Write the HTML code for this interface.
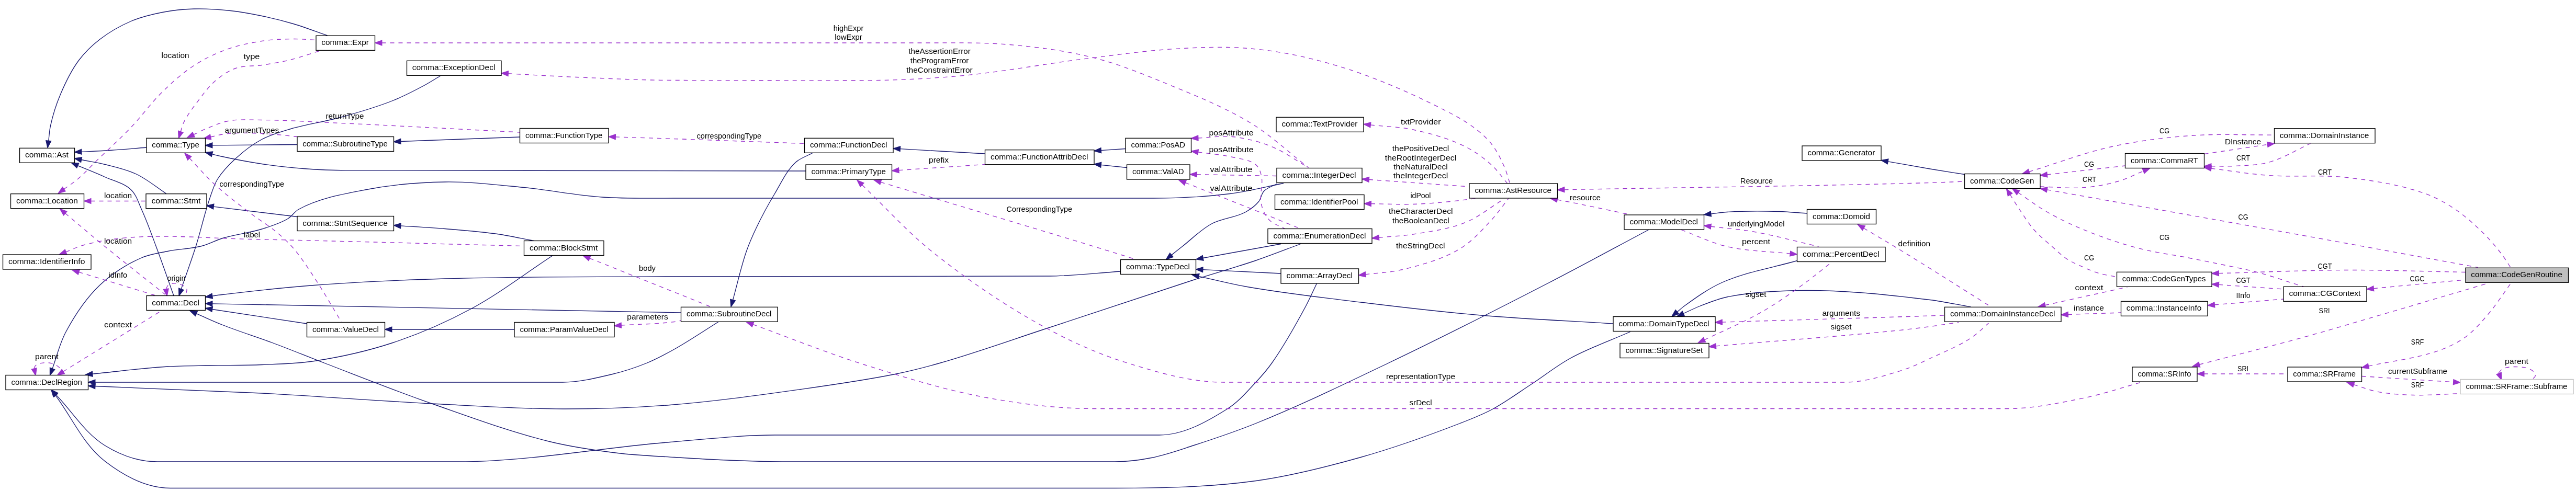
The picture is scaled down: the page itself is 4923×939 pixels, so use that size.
<!DOCTYPE html>
<html><head><meta charset="utf-8"><title>comma::CodeGenRoutine collaboration graph</title>
<style>html,body{margin:0;padding:0;background:#fff;}svg{display:block;}text{font-family:"Liberation Sans",sans-serif;font-size:14.2px;fill:#000;text-anchor:middle;}</style></head><body>
<svg width="4923" height="939" viewBox="0 0 4923 939">
<rect x="0" y="0" width="4923" height="939" fill="#fff"/>
<g transform="translate(0.5,0.5)">
<g>
<path d="M92.2,269.1C93.5,259.4 93.9,249.6 96,240C100.5,219.5 106.8,199.3 115,180C124.6,157.3 135.3,134.7 150,115C161.3,99.9 175.1,86.5 190,75C208.3,60.9 228.7,49.1 250,40C269.1,31.9 289.6,27 310,23C329.7,19.2 349.9,17.1 370,16.5C393.4,15.8 416.8,17.5 440,20C460.2,22.2 480.1,25.9 500,30C520.2,34.2 540.2,39.1 560,45C582,51.5 603.3,60 625,67.5" fill="none" stroke="#191970" stroke-width="1.33"/>
<polygon points="90.5,282 97.1,269.4 87.4,268.2" fill="#191970" stroke="#191970" stroke-width="1.33"/>
<path d="M155,289.8C173.3,288.9 191.7,288.2 210,287C233.2,285.5 256.3,283.3 279.5,281.5" fill="none" stroke="#191970" stroke-width="1.33"/>
<polygon points="142,290.5 155.5,294.7 155,284.9" fill="#191970" stroke="#191970" stroke-width="1.33"/>
<path d="M154.8,305C169.8,308 185.1,310.2 200,314C220.3,319.1 241.1,323.6 260,332.5C280.7,342.2 298.3,357.5 317.5,370" fill="none" stroke="#191970" stroke-width="1.33"/>
<polygon points="142,302.5 154.1,309.9 156,300.3" fill="#191970" stroke="#191970" stroke-width="1.33"/>
<path d="M148,316.1C165.3,323.4 182.9,330.2 200,338C216.9,345.7 236.7,349.6 250,362.5C260.2,372.3 264.1,387.1 270,400C280.5,422.8 288.7,446.5 297.5,470C309.3,501.5 320.2,533.3 331.5,565" fill="none" stroke="#191970" stroke-width="1.33"/>
<polygon points="136,311 146.3,320.7 150.2,311.7" fill="#191970" stroke="#191970" stroke-width="1.33"/>
<path d="M405,277.4L567.5,276" fill="none" stroke="#191970" stroke-width="1.33"/>
<polygon points="392,277.5 405.3,282.3 405.3,272.5" fill="#191970" stroke="#191970" stroke-width="1.33"/>
<path d="M765,270L993,261.5" fill="none" stroke="#191970" stroke-width="1.33"/>
<polygon points="752,270.5 765.5,274.9 765.1,265.1" fill="#191970" stroke="#191970" stroke-width="1.33"/>
<path d="M404.6,294.2C409.7,295.4 414.8,296.9 420,298C446.5,303.8 473.2,309 500,313C526.5,317 553.2,319.9 580,322C606.6,324 633.3,325.3 660,325.3L1539.5,326.5" fill="none" stroke="#191970" stroke-width="1.33"/>
<polygon points="392,291 403.7,299 406.1,289.5" fill="#191970" stroke="#191970" stroke-width="1.33"/>
<path d="M407.4,394.6L567.5,414" fill="none" stroke="#191970" stroke-width="1.33"/>
<polygon points="394.5,393 407.1,399.5 408.3,389.7" fill="#191970" stroke="#191970" stroke-width="1.33"/>
<path d="M765,431.4C793.3,433.2 821.7,434.6 850,437C883.4,439.8 916.8,442.3 950,447C973.5,450.4 996.7,455.7 1020,460" fill="none" stroke="#191970" stroke-width="1.33"/>
<polygon points="752,430.5 764.9,436.3 765.6,426.5" fill="#191970" stroke="#191970" stroke-width="1.33"/>
<path d="M345.7,552.7C355.1,525.1 365.2,497.8 374,470C383.4,440.2 389.9,409.5 400,380C404.4,367.3 408,354 415,342.5C424.3,327.4 436.9,314.5 450,302.5C465.2,288.6 481.8,275.7 500,266C517.2,256.8 536.3,251.5 555,246C586.2,236.8 618.7,232.6 650,224C683.7,214.7 717.5,205 750,192C770.6,183.8 790.4,173.5 810,163C820.9,157.1 831.3,150.3 842,144" fill="none" stroke="#191970" stroke-width="1.33"/>
<polygon points="341.5,565 350.4,554 341.2,550.8" fill="#191970" stroke="#191970" stroke-width="1.33"/>
<path d="M404.9,591L586,618.5" fill="none" stroke="#191970" stroke-width="1.33"/>
<polygon points="392,589 404.4,595.8 405.9,586.2" fill="#191970" stroke="#191970" stroke-width="1.33"/>
<path d="M748,629.5L982.5,629.5" fill="none" stroke="#191970" stroke-width="1.33"/>
<polygon points="735,629.5 748.3,634.4 748.3,624.6" fill="#191970" stroke="#191970" stroke-width="1.33"/>
<path d="M404.9,565.7C409.9,564.9 414.9,564.1 420,563.5C479.9,556.2 539.9,549.6 600,545C683.2,538.6 766.6,535 850,532.5C995.9,528.2 1142,528.7 1288,528.5L2005,527.5C2050.4,527.4 2095.7,521.5 2141,518.5" fill="none" stroke="#191970" stroke-width="1.33"/>
<polygon points="392,567.5 405.9,570.5 404.5,560.8" fill="#191970" stroke="#191970" stroke-width="1.33"/>
<path d="M405,580.3L1301,597.5" fill="none" stroke="#191970" stroke-width="1.33"/>
<polygon points="392,580 405.2,585.2 405.4,575.4" fill="#191970" stroke="#191970" stroke-width="1.33"/>
<path d="M374.5,599.2C391.4,606.4 408,614.3 425,621C456.3,633.4 488.5,643.2 520,655C553.5,667.5 586.6,681.2 620,694C688.2,720.2 756,747.4 825,771.5C899.4,797.5 973.5,825.3 1050,844C1092.7,854.4 1136.4,860.7 1180,866C1215.8,870.3 1252,871.7 1288,874C1325.3,876.4 1362.6,878.6 1400,880C1435,881.4 1470,882.5 1505,882.5L2130,882.5C2153.5,882.5 2177,879.6 2200,875C2227.3,869.6 2253.6,860.1 2280,851.5C2320.4,838.4 2360.7,824.9 2400,809C2485.8,774.4 2569.1,733.9 2652.5,694C2755.9,644.6 2858.1,592.6 2960,540C3023.7,507.1 3086.7,472.7 3150,439" fill="none" stroke="#191970" stroke-width="1.33"/>
<polygon points="362.6,594 372.9,603.8 376.8,594.8" fill="#191970" stroke="#191970" stroke-width="1.33"/>
<path d="M99.5,704.8C108,681.5 113.4,656.9 125,635C142.4,602.3 163.3,570.6 190,545C213.1,523 240.8,505.3 270,492.5C285.7,485.6 303.2,483.4 320,480C341.5,475.7 363.8,475.5 385,470C398.8,466.4 411.4,459.1 425,455C449.6,447.6 475.5,445.2 500,437.5C517.1,432.1 534.7,426.9 550,417.5C557.6,412.9 562.2,404.3 570,400C609.6,378.3 655.7,370.5 700,362C749.3,352.5 799.8,348.2 850,347.5C900.1,346.8 950.1,353.2 1000,358C1050.1,362.8 1099.7,373 1150,376.5C1195.9,379.7 1242,378.5 1288,378.5L2205,378.5C2253.4,378.5 2302,376.1 2350,370C2384.5,365.6 2418.3,356.7 2452.5,350" fill="none" stroke="#191970" stroke-width="1.33"/>
<polygon points="95,717 104.2,706.2 95,702.8" fill="#191970" stroke="#191970" stroke-width="1.33"/>
<path d="M2238.2,487.4C2245.4,481.6 2252.7,475.7 2260,470C2278.2,455.7 2294.6,438.5 2315,427.5C2335.2,416.6 2359.9,416.1 2380,405C2389.3,399.8 2398.3,393.3 2405,385C2409.7,379.2 2409.9,370.4 2415,365C2421.6,358.1 2431.7,355.7 2440,351" fill="none" stroke="#191970" stroke-width="1.33"/>
<polygon points="2228,495.5 2241.5,491 2235.3,483.4" fill="#191970" stroke="#191970" stroke-width="1.33"/>
<path d="M2298.3,493L2447.5,466" fill="none" stroke="#191970" stroke-width="1.33"/>
<polygon points="2285.5,495.3 2299.5,497.8 2297.7,488.1" fill="#191970" stroke="#191970" stroke-width="1.33"/>
<path d="M181,738C287.3,742.5 393.7,746 500,751.5C608.4,757.1 716.6,766 825,771.5C908.3,775.7 991.6,781.4 1075,781.5C1143.4,781.6 1211.8,779.3 1280,774C1363.7,767.5 1446.9,755.7 1530,744C1590.2,735.5 1650.4,727.1 1710,715C1738.6,709.2 1766.9,702 1795,694C1864.1,674.3 1931.7,649.9 2000,627.5C2093.4,596.9 2186.4,565.1 2280,535C2319.9,522.2 2360.3,511 2400,497.5C2428.6,487.7 2456.7,476.5 2485,466" fill="none" stroke="#191970" stroke-width="1.33"/>
<polygon points="168,737.5 181.1,743 181.5,733.2" fill="#191970" stroke="#191970" stroke-width="1.33"/>
<path d="M2298,515.1L2447.5,522.5" fill="none" stroke="#191970" stroke-width="1.33"/>
<polygon points="2285,514.5 2298,520 2298.5,510.3" fill="#191970" stroke="#191970" stroke-width="1.33"/>
<path d="M106.5,754.4C137.7,786.7 161.8,827.9 200,851.5C229.7,869.8 265.1,882.5 300,882.5L875,882.5C1010.6,882.5 1144.9,855.8 1280,845C1346.6,839.7 1413.2,831.5 1480,831.5L2215,831.5C2261.4,831.5 2305.7,806.2 2345,781.5C2366.3,768.2 2382.8,748.3 2400,730C2410.7,718.6 2421,706.7 2430,694C2454.4,659.5 2475,622.3 2495,585C2502.6,570.8 2509,556 2516,541.5" fill="none" stroke="#191970" stroke-width="1.33"/>
<polygon points="97.5,745 103.2,758 110.3,751.2" fill="#191970" stroke="#191970" stroke-width="1.33"/>
<path d="M2290.2,527.8C2320.1,534.4 2349.8,542.1 2380,547.5C2452.9,560.4 2526.5,568.5 2600,577.5C2676.5,586.9 2753.2,595.9 2830,602.5C2914,609.7 2998.3,613.2 3082.5,618.5" fill="none" stroke="#191970" stroke-width="1.33"/>
<polygon points="2277.5,525 2289.4,532.6 2291.5,523.1" fill="#191970" stroke="#191970" stroke-width="1.33"/>
<path d="M105.3,755.4C136.9,797.4 158.4,849.3 200,881.5C235.6,909.1 279.9,933 325,933L2130,933C2220.1,933 2310.7,931.3 2400,919C2467.7,909.7 2534.2,892.6 2600,874C2664.4,855.8 2727.6,833.2 2790,809C2810.3,801.1 2830.8,793.2 2850,783C2876.2,769.1 2900.2,751.2 2925,735C2950.2,718.6 2973.7,699.5 3000,685C3036.7,664.8 3076.7,651 3115,634" fill="none" stroke="#191970" stroke-width="1.33"/>
<polygon points="97.5,745 101.6,758.6 109.4,752.7" fill="#191970" stroke="#191970" stroke-width="1.33"/>
<path d="M3204.5,596.2C3209,592.5 3213.3,588.4 3218,585C3240.9,568.4 3264.2,551.6 3290,540C3335.6,519.6 3386,512 3434,498" fill="none" stroke="#191970" stroke-width="1.33"/>
<polygon points="3194.5,604.5 3207.9,599.8 3201.6,592.2" fill="#191970" stroke="#191970" stroke-width="1.33"/>
<path d="M3216.4,599.2C3226.9,594.5 3237.2,589.2 3248,585C3265,578.3 3282.1,571.2 3300,567.5C3349.1,557.3 3399.8,555.2 3450,555C3529.6,554.7 3609,563.2 3688,573C3714.2,576.2 3740,582 3766,586.5" fill="none" stroke="#191970" stroke-width="1.33"/>
<polygon points="3204.5,604.5 3218.6,603.5 3214.6,594.6" fill="#191970" stroke="#191970" stroke-width="1.33"/>
<path d="M3268.9,408.5C3279.3,407.4 3289.6,405.6 3300,405C3333.3,402.9 3366.7,403.1 3400,404C3417.7,404.5 3435.3,406.3 3453,407.5" fill="none" stroke="#191970" stroke-width="1.33"/>
<polygon points="3256,410 3269.8,413.4 3268.7,403.6" fill="#191970" stroke="#191970" stroke-width="1.33"/>
<path d="M3607.3,308.3C3634.2,313 3661.1,318 3688,322.5C3710,326.2 3732,329.5 3754,333" fill="none" stroke="#191970" stroke-width="1.33"/>
<polygon points="3594.5,306 3606.7,313.1 3608.4,303.5" fill="#191970" stroke="#191970" stroke-width="1.33"/>
<path d="M1719.5,284.2L1882,293.5" fill="none" stroke="#191970" stroke-width="1.33"/>
<polygon points="1706.5,283.5 1719.5,289.1 1720.1,279.4" fill="#191970" stroke="#191970" stroke-width="1.33"/>
<path d="M2103.5,287.1L2150.5,284" fill="none" stroke="#191970" stroke-width="1.33"/>
<polygon points="2090.5,288 2104.1,292 2103.4,282.2" fill="#191970" stroke="#191970" stroke-width="1.33"/>
<path d="M2103.4,314.8L2153,320" fill="none" stroke="#191970" stroke-width="1.33"/>
<polygon points="2090.5,313.5 2103.2,319.7 2104.2,310" fill="#191970" stroke="#191970" stroke-width="1.33"/>
<path d="M1400,573.5C1408.7,542.3 1415.4,510.5 1426,480C1431.4,464.6 1438,449.7 1445,435C1455.6,412.8 1467.3,391.1 1480,370C1492.4,349.4 1502.3,326.3 1520,310C1529.1,301.6 1541.7,298 1552.5,292" fill="none" stroke="#191970" stroke-width="1.33"/>
<polygon points="1396.5,586 1404.8,574.5 1395.3,571.9" fill="#191970" stroke="#191970" stroke-width="1.33"/>
<path d="M181,730.5L1075,730.5C1107.1,730.5 1138.8,722.5 1170,715C1192.1,709.7 1213.9,702.6 1235,694C1253.3,686.5 1270.8,677.1 1288,667.5C1316.9,651.3 1344.3,632.5 1372.5,615" fill="none" stroke="#191970" stroke-width="1.33"/>
<polygon points="168,730.5 181.3,735.4 181.3,725.6" fill="#191970" stroke="#191970" stroke-width="1.33"/>
<path d="M175.9,714.7C224,710 271.8,703.5 320,700.5C346.6,698.9 373.3,699 400,698.5C433.3,697.8 466.7,698.4 500,697C533.4,695.6 567,695 600,690C650.8,682.3 701.2,671.1 750,655C801.7,637.9 852,615.8 900,590C954.7,560.5 1004,522 1056,488" fill="none" stroke="#191970" stroke-width="1.33"/>
<polygon points="163,716 176.7,719.6 175.8,709.8" fill="#191970" stroke="#191970" stroke-width="1.33"/>
<path d="M121.5,361.4C130.2,355.1 139.3,349.4 147.5,342.5C161.2,331 173.1,317.5 186,305C207.3,284.3 229.5,264.5 250,243C270.9,221.1 288.3,196.1 310,175C328.7,156.9 348.2,139.2 370,125C388.7,112.8 409,102.7 430,95C452.5,86.7 476.3,81.6 500,78C519.8,75 540,74.2 560,74C574.5,73.9 589,75.3 603.5,76" fill="none" stroke="#9a32cd" stroke-width="1.33" stroke-dasharray="8,8"/>
<polygon points="111,369 124.6,365.2 118.9,357.2" fill="#9a32cd" stroke="#9a32cd" stroke-width="1.33"/>
<path d="M344.7,251.6C346.5,246.1 347.5,240.2 350,235C357.8,218.7 369.1,204.4 380,190C389.3,177.8 398.4,165 410,155C421.9,144.7 435.2,135.2 450,130C465.8,124.4 483.4,126.5 500,124C516.7,121.5 533.5,118.9 550,115C570.3,110.1 590,103 610,97" fill="none" stroke="#9a32cd" stroke-width="1.33" stroke-dasharray="8,8"/>
<polygon points="340.8,264 349.5,252.8 340.2,249.8" fill="#9a32cd" stroke="#9a32cd" stroke-width="1.33"/>
<path d="M729,81.5L1780,81.5C1830,81.5 1880.2,80.5 1930,85C1983.8,89.8 2037.7,96.7 2090,110C2138,122.2 2184.2,141.1 2230,160C2284.5,182.4 2339.7,204.3 2390,235C2429.6,259.1 2463.3,291.7 2500,320" fill="none" stroke="#9a32cd" stroke-width="1.33" stroke-dasharray="8,8"/>
<polygon points="716,81.5 729.3,86.4 729.3,76.6" fill="#9a32cd" stroke="#9a32cd" stroke-width="1.33"/>
<path d="M970.5,140.2C1013.7,142.5 1056.8,145.2 1100,147C1161.6,149.6 1223.3,152.9 1285,153L1630,153.5C1696.7,153.6 1763.5,150.9 1830,145C1913.8,137.5 1996.5,121.4 2080,111C2129.9,104.8 2179.8,97.7 2230,94C2268.3,91.2 2306.6,89.4 2345,90C2363.4,90.3 2381.7,91.5 2400,93.5C2426.8,96.4 2453.6,100.2 2480,106C2520.6,114.9 2560.8,126 2600,140C2651.3,158.3 2701.3,180.5 2750,205C2772.3,216.2 2794.9,227.6 2815,242.5C2827.8,252 2840.2,262.5 2850,275C2860.6,288.5 2868.1,304.3 2875,320C2879.2,329.6 2881.7,340 2885,350" fill="none" stroke="#9a32cd" stroke-width="1.33" stroke-dasharray="8,8"/>
<polygon points="957.5,139.5 970.5,145.1 971,135.3" fill="#9a32cd" stroke="#9a32cd" stroke-width="1.33"/>
<path d="M173,384L278.5,384" fill="none" stroke="#9a32cd" stroke-width="1.33" stroke-dasharray="8,8"/>
<polygon points="160,384 173.3,388.9 173.3,379.1" fill="#9a32cd" stroke="#9a32cd" stroke-width="1.33"/>
<path d="M369.3,257C377.9,253 386.2,248.6 395,245C408.1,239.7 421.1,233.6 435,231C456.3,227 478.3,228.9 500,229C550,229.2 600,232.8 650,235C716.7,238 783.3,241.6 850,245C897.7,247.4 945.3,250 993,252.5" fill="none" stroke="#9a32cd" stroke-width="1.33" stroke-dasharray="8,8"/>
<polygon points="357.5,262.5 371.6,261.3 367.5,252.4" fill="#9a32cd" stroke="#9a32cd" stroke-width="1.33"/>
<path d="M401.7,261.6C411.1,259.5 420.4,256.7 430,255.5C446.6,253.5 463.3,253.8 480,254C496.7,254.2 513.4,255.6 530,257C542.5,258 555,259.7 567.5,261" fill="none" stroke="#9a32cd" stroke-width="1.33" stroke-dasharray="8,8"/>
<polygon points="389,264.3 403,266.3 401,256.7" fill="#9a32cd" stroke="#9a32cd" stroke-width="1.33"/>
<path d="M361.5,301.9C377.7,318.8 392.8,336.7 410,352.5C430.5,371.3 452.9,388.1 475,405C493,418.8 512.6,430.4 530,445C540.7,453.9 550.9,463.5 560,474C575,491.4 587.3,510.9 600,530C618.5,558 635,587.3 652.5,616" fill="none" stroke="#9a32cd" stroke-width="1.33" stroke-dasharray="8,8"/>
<polygon points="352.5,292.5 358.2,305.5 365.2,298.7" fill="#9a32cd" stroke="#9a32cd" stroke-width="1.33"/>
<path d="M124,407.3C151,429.9 177.7,452.8 205,475C241.3,504.6 278.3,533.3 315,562.5" fill="none" stroke="#9a32cd" stroke-width="1.33" stroke-dasharray="8,8"/>
<polygon points="114,399 121.1,411.3 127.3,403.8" fill="#9a32cd" stroke="#9a32cd" stroke-width="1.33"/>
<path d="M125.1,481.4C136.8,476.9 148,471.2 160,468C189.3,460.1 219.7,455.7 250,453.5C326.5,448 403.3,455.5 480,457C653.7,460.5 827.3,465.7 1001,470" fill="none" stroke="#9a32cd" stroke-width="1.33" stroke-dasharray="8,8"/>
<polygon points="113,486 127.2,485.8 123.7,476.7" fill="#9a32cd" stroke="#9a32cd" stroke-width="1.33"/>
<path d="M149.9,519.8L295,564" fill="none" stroke="#9a32cd" stroke-width="1.33" stroke-dasharray="8,8"/>
<polygon points="137.5,516 148.8,524.6 151.7,515.2" fill="#9a32cd" stroke="#9a32cd" stroke-width="1.33"/>
<path d="M316.7,552.3C318.1,549.9 318.8,546.7 321,545C324.4,542.4 329,541.4 333.3,541.3C338.4,541.2 343.5,542.7 348,545C351.3,546.7 355.2,548.8 356.5,552.3C357.3,554.6 355.7,557.2 355.3,559.6" fill="none" stroke="#9a32cd" stroke-width="1.33" stroke-dasharray="8,8"/>
<polygon points="318.6,565.5 321.6,551.6 311.9,553" fill="#9a32cd" stroke="#9a32cd" stroke-width="1.33"/>
<path d="M120.1,710.2L306,595" fill="none" stroke="#9a32cd" stroke-width="1.33" stroke-dasharray="8,8"/>
<polygon points="109,717 122.9,714.2 117.7,705.8" fill="#9a32cd" stroke="#9a32cd" stroke-width="1.33"/>
<path d="M64.5,704C65.5,702.2 65.9,699.8 67.5,698.5C71.7,695 77.6,694 83,693.3C88,692.7 93.2,693 98,694.3C102.3,695.4 106.3,697.6 110,700C111.7,701.1 113,702.7 114.5,704" fill="none" stroke="#9a32cd" stroke-width="1.33" stroke-dasharray="8,8"/>
<polygon points="67.7,717.5 69.4,703.4 59.9,705.7" fill="#9a32cd" stroke="#9a32cd" stroke-width="1.33"/>
<path d="M1126.1,493.3L1357.5,586" fill="none" stroke="#9a32cd" stroke-width="1.33" stroke-dasharray="8,8"/>
<polygon points="1114,488.5 1124.5,498 1128.2,488.9" fill="#9a32cd" stroke="#9a32cd" stroke-width="1.33"/>
<path d="M1186.5,621.7C1220.3,619.4 1254.4,619.3 1288,615C1292.4,614.4 1296.7,613.3 1301,612.5" fill="none" stroke="#9a32cd" stroke-width="1.33" stroke-dasharray="8,8"/>
<polygon points="1173.5,622.5 1187.1,626.5 1186.5,616.7" fill="#9a32cd" stroke="#9a32cd" stroke-width="1.33"/>
<path d="M1175.5,261.4C1213,262.6 1250.5,263.7 1288,265C1371,267.8 1454,271 1537,274" fill="none" stroke="#9a32cd" stroke-width="1.33" stroke-dasharray="8,8"/>
<polygon points="1162.5,261 1175.6,266.3 1175.9,256.5" fill="#9a32cd" stroke="#9a32cd" stroke-width="1.33"/>
<path d="M1717,325.1L1882,314" fill="none" stroke="#9a32cd" stroke-width="1.33" stroke-dasharray="8,8"/>
<polygon points="1704,326 1717.6,330 1716.9,320.2" fill="#9a32cd" stroke="#9a32cd" stroke-width="1.33"/>
<path d="M1682.4,347.8C1828.3,391.8 1974.3,435.3 2120,480C2135,484.6 2150,489.3 2165,494" fill="none" stroke="#9a32cd" stroke-width="1.33" stroke-dasharray="8,8"/>
<polygon points="1670,344 1681.3,352.5 1684.1,343.2" fill="#9a32cd" stroke="#9a32cd" stroke-width="1.33"/>
<path d="M1646.9,353C1691.3,395.3 1732.2,441.6 1780,480C1848.9,535.3 1922.4,585.3 2000,627.5C2049.4,654.4 2101.3,677.3 2155,694C2214.4,712.4 2275.8,730.5 2338,730.5L3525,730.5C3562.5,730.5 3599.3,718.7 3635,707.5C3653.3,701.8 3670.6,693.1 3688,685C3714.9,672.5 3742.8,661.4 3767.5,645C3779.3,637.2 3789.2,626.7 3800,617.5" fill="none" stroke="#9a32cd" stroke-width="1.33" stroke-dasharray="8,8"/>
<polygon points="1637.5,344 1643.7,356.7 1650.5,349.6" fill="#9a32cd" stroke="#9a32cd" stroke-width="1.33"/>
<path d="M2289,263.5C2311,262.7 2333.1,258.7 2355,261C2380.6,263.7 2406.1,270.3 2430,280C2454.9,290.1 2476.7,306.7 2500,320" fill="none" stroke="#9a32cd" stroke-width="1.33" stroke-dasharray="8,8"/>
<polygon points="2276,264 2289.5,268.4 2289.1,258.6" fill="#9a32cd" stroke="#9a32cd" stroke-width="1.33"/>
<path d="M2288.9,290.4C2310.9,293.6 2333.3,294.9 2355,300C2370.4,303.7 2388.1,304.6 2400,315C2405.6,319.9 2408.3,327.7 2410,335C2414.2,352.8 2405.8,372.2 2410,390C2412.6,400.9 2417.3,411.9 2425,420C2432.9,428.3 2445,431.3 2455,437" fill="none" stroke="#9a32cd" stroke-width="1.33" stroke-dasharray="8,8"/>
<polygon points="2276,288.5 2288.5,295.3 2289.9,285.6" fill="#9a32cd" stroke="#9a32cd" stroke-width="1.33"/>
<path d="M2286.5,333.2L2439.5,336" fill="none" stroke="#9a32cd" stroke-width="1.33" stroke-dasharray="8,8"/>
<polygon points="2273.5,333 2286.7,338.1 2286.9,328.3" fill="#9a32cd" stroke="#9a32cd" stroke-width="1.33"/>
<path d="M2264.6,348.8C2309.7,366.7 2354.9,384.4 2400,402.5C2426.7,413.2 2453.3,424.2 2480,435" fill="none" stroke="#9a32cd" stroke-width="1.33" stroke-dasharray="8,8"/>
<polygon points="2252.5,344 2263.1,353.5 2266.7,344.3" fill="#9a32cd" stroke="#9a32cd" stroke-width="1.33"/>
<path d="M2618.4,238.4C2645.6,241.5 2673.3,241.7 2700,247.5C2734.3,254.9 2768.6,264.4 2800,280C2818.2,289.1 2834.9,301.3 2850,315C2861.4,325.3 2870,338.3 2880,350" fill="none" stroke="#9a32cd" stroke-width="1.33" stroke-dasharray="8,8"/>
<polygon points="2605.5,237 2618.2,243.3 2619.3,233.6" fill="#9a32cd" stroke="#9a32cd" stroke-width="1.33"/>
<path d="M2615.5,342.9L2807.5,356.5" fill="none" stroke="#9a32cd" stroke-width="1.33" stroke-dasharray="8,8"/>
<polygon points="2602.5,342 2615.4,347.8 2616.1,338.1" fill="#9a32cd" stroke="#9a32cd" stroke-width="1.33"/>
<path d="M2619.5,389.1C2646.3,389.4 2673.2,390.8 2700,390C2723.4,389.3 2746.7,387.2 2770,385C2786.7,383.4 2803.3,381 2820,379" fill="none" stroke="#9a32cd" stroke-width="1.33" stroke-dasharray="8,8"/>
<polygon points="2606.5,389 2619.7,394 2619.9,384.2" fill="#9a32cd" stroke="#9a32cd" stroke-width="1.33"/>
<path d="M2634.4,453.8C2656.3,451.7 2678.3,451 2700,447.5C2733.7,442.1 2768.3,437.8 2800,425C2825.3,414.8 2846.7,396.7 2870,382.5" fill="none" stroke="#9a32cd" stroke-width="1.33" stroke-dasharray="8,8"/>
<polygon points="2621.5,455 2635.2,458.6 2634.3,448.9" fill="#9a32cd" stroke="#9a32cd" stroke-width="1.33"/>
<path d="M2608.9,524.3C2632.6,521.2 2656.8,520.7 2680,515C2717.9,505.7 2756.6,495.2 2790,475C2813.2,460.9 2831.5,439.9 2850,420C2861.9,407.2 2871.7,392.7 2882.5,379" fill="none" stroke="#9a32cd" stroke-width="1.33" stroke-dasharray="8,8"/>
<polygon points="2596,526 2609.8,529.1 2608.6,519.4" fill="#9a32cd" stroke="#9a32cd" stroke-width="1.33"/>
<path d="M2989,362.3C3222,357.8 3455.1,355.6 3688,349C3710,348.4 3732,347.3 3754,346.5" fill="none" stroke="#9a32cd" stroke-width="1.33" stroke-dasharray="8,8"/>
<polygon points="2976,362.5 2989.4,367.1 2989.2,357.3" fill="#9a32cd" stroke="#9a32cd" stroke-width="1.33"/>
<path d="M2975.3,381.4C2981.9,382.6 2988.4,383.7 2995,385C3033.4,392.6 3071.7,401 3110,409" fill="none" stroke="#9a32cd" stroke-width="1.33" stroke-dasharray="8,8"/>
<polygon points="2962.5,379 2974.7,386.2 2976.5,376.6" fill="#9a32cd" stroke="#9a32cd" stroke-width="1.33"/>
<path d="M3268.9,432.6C3295.9,435.9 3323.2,437.8 3350,442.5C3392.1,449.9 3433.3,461.5 3475,471" fill="none" stroke="#9a32cd" stroke-width="1.33" stroke-dasharray="8,8"/>
<polygon points="3256,431 3268.6,437.5 3269.8,427.8" fill="#9a32cd" stroke="#9a32cd" stroke-width="1.33"/>
<path d="M3212.5,439C3241.7,449.7 3269.8,463.9 3300,471C3339.5,480.3 3380.7,480 3421.1,484.6" fill="none" stroke="#9a32cd" stroke-width="1.33" stroke-dasharray="8,8"/>
<polygon points="3434,486 3421.3,479.7 3420.2,489.4" fill="#9a32cd" stroke="#9a32cd" stroke-width="1.33"/>
<path d="M3561.1,435.7C3585.8,450.5 3610.5,465 3635,480C3691.2,514.5 3746.7,550 3802.5,585" fill="none" stroke="#9a32cd" stroke-width="1.33" stroke-dasharray="8,8"/>
<polygon points="3550,429 3558.9,440 3563.9,431.6" fill="#9a32cd" stroke="#9a32cd" stroke-width="1.33"/>
<path d="M3256.7,649.4C3287.8,634.6 3319.5,621 3350,605C3361.9,598.8 3373.6,592.2 3385,585C3407.3,570.9 3428.8,555.6 3450,540C3467,527.5 3483.3,514 3500,501" fill="none" stroke="#9a32cd" stroke-width="1.33" stroke-dasharray="8,8"/>
<polygon points="3245,655 3259.1,653.7 3254.9,644.9" fill="#9a32cd" stroke="#9a32cd" stroke-width="1.33"/>
<path d="M3290.5,615.6C3423,611.6 3555.5,607.9 3688,603.5C3697.3,603.2 3706.7,602.8 3716,602.5" fill="none" stroke="#9a32cd" stroke-width="1.33" stroke-dasharray="8,8"/>
<polygon points="3277.5,616 3290.9,620.5 3290.6,610.7" fill="#9a32cd" stroke="#9a32cd" stroke-width="1.33"/>
<path d="M3278.5,661.4C3397.3,651.1 3516.4,642.9 3635,630.5C3652.7,628.6 3670.4,626.4 3688,624C3706.2,621.5 3724.3,618.7 3742.5,616" fill="none" stroke="#9a32cd" stroke-width="1.33" stroke-dasharray="8,8"/>
<polygon points="3265.5,662.5 3279.2,666.2 3278.3,656.5" fill="#9a32cd" stroke="#9a32cd" stroke-width="1.33"/>
<path d="M1438.2,619.9C1508.8,645.4 1578.4,673.9 1650,696.5C1725.8,720.4 1801.9,744.4 1880,759C1949.2,771.9 2019.6,781 2090,781L3835,781C3885.5,781 3935.6,770.2 3985,760C4020.6,752.6 4055,740.7 4090,731" fill="none" stroke="#9a32cd" stroke-width="1.33" stroke-dasharray="8,8"/>
<polygon points="1426,615.5 1436.8,624.6 1440.2,615.4" fill="#9a32cd" stroke="#9a32cd" stroke-width="1.33"/>
<path d="M3876.9,328C3929.6,312 3981.2,291.9 4035,280C4084.3,269.1 4134.7,262.7 4185,259C4238.5,255 4292.3,258 4346,257.5" fill="none" stroke="#9a32cd" stroke-width="1.33" stroke-dasharray="8,8"/>
<polygon points="3864.5,331.8 3878.7,332.6 3875.8,323.2" fill="#9a32cd" stroke="#9a32cd" stroke-width="1.33"/>
<path d="M3911.4,333.5L4061,316.5" fill="none" stroke="#9a32cd" stroke-width="1.33" stroke-dasharray="8,8"/>
<polygon points="3898.5,335 3912.3,338.4 3911.2,328.6" fill="#9a32cd" stroke="#9a32cd" stroke-width="1.33"/>
<path d="M3898.5,356.5C3927.3,357 3956.3,360.5 3985,358C4007,356.1 4028.9,351.8 4050,345.5C4065.9,340.7 4080.7,332.8 4096,326.5" fill="none" stroke="#9a32cd" stroke-width="1.33" stroke-dasharray="8,8"/>
<polygon points="4108,321.5 4093.8,322.1 4097.6,331.1" fill="#9a32cd" stroke="#9a32cd" stroke-width="1.33"/>
<path d="M4212,294L4333.1,275.9" fill="none" stroke="#9a32cd" stroke-width="1.33" stroke-dasharray="8,8"/>
<polygon points="4346,274 4332.1,271.1 4333.6,280.8" fill="#9a32cd" stroke="#9a32cd" stroke-width="1.33"/>
<path d="M4225,317.4C4240,317.3 4255,317.9 4270,317C4291.8,315.7 4314,315.7 4335,310C4363.2,302.3 4388.3,286 4415,274" fill="none" stroke="#9a32cd" stroke-width="1.33" stroke-dasharray="8,8"/>
<polygon points="4212,317.5 4225.3,322.3 4225.3,312.5" fill="#9a32cd" stroke="#9a32cd" stroke-width="1.33"/>
<path d="M4224.9,321.6C4261.6,326 4298.1,332.3 4335,335C4384.9,338.7 4435.3,333.2 4485,339C4535.7,344.9 4586.9,352.8 4635,370C4655.2,377.2 4674.2,388 4692,400C4711.2,413 4728.5,428.7 4745,445C4757.6,457.4 4769.2,471 4780,485C4786.4,493.3 4791.7,502.3 4797.5,511" fill="none" stroke="#9a32cd" stroke-width="1.33" stroke-dasharray="8,8"/>
<polygon points="4212,320 4224.6,326.5 4225.8,316.7" fill="#9a32cd" stroke="#9a32cd" stroke-width="1.33"/>
<path d="M3911.3,362.3C3981.9,374.9 4052.5,387.4 4123.1,400C4230.1,419.1 4337.1,438.2 4444,457.6C4541,475.2 4638,493.2 4735,511" fill="none" stroke="#9a32cd" stroke-width="1.33" stroke-dasharray="8,8"/>
<polygon points="3898.5,360 3910.7,367.2 3912.5,357.5" fill="#9a32cd" stroke="#9a32cd" stroke-width="1.33"/>
<path d="M3856.3,367.8C3873.4,379.3 3890,391.9 3907.7,402.5C3921.5,410.8 3935.8,418.1 3950.3,425C3966.7,432.8 3983.5,439.7 4000.4,446.3C4016.9,452.7 4033.6,458.6 4050.5,463.9C4067,469.1 4083.7,473.8 4100.6,477.7C4125.4,483.4 4150.8,486.6 4175.8,491.4C4200.9,496.2 4225.9,501.3 4250.9,506.5C4271.8,510.9 4292.9,514.7 4313.5,520.2C4343.3,528.1 4372.3,538.5 4401.7,547.7" fill="none" stroke="#9a32cd" stroke-width="1.33" stroke-dasharray="8,8"/>
<polygon points="3845.5,360.5 3853.8,372 3859.3,363.9" fill="#9a32cd" stroke="#9a32cd" stroke-width="1.33"/>
<path d="M3840.9,371.5C3846.9,381 3852.6,390.7 3858.9,400C3868.1,413.6 3876.8,427.7 3887.7,440C3897.5,451.1 3909.1,460.4 3920.2,470.1C3930,478.7 3939.4,488.1 3950.3,495.2C3959.7,501.3 3970.1,505.7 3980.4,510.2C3991,514.9 4001.7,519.5 4012.9,522.7C4023.4,525.7 4034.3,526.9 4045,529" fill="none" stroke="#9a32cd" stroke-width="1.33" stroke-dasharray="8,8"/>
<polygon points="3834,360.5 3836.9,374.4 3845.2,369.1" fill="#9a32cd" stroke="#9a32cd" stroke-width="1.33"/>
<path d="M4239.5,522.2C4321.3,520.1 4403.1,516.3 4485,516C4560.5,515.7 4636,518.7 4711.5,520" fill="none" stroke="#9a32cd" stroke-width="1.33" stroke-dasharray="8,8"/>
<polygon points="4226.5,522.5 4239.9,527.1 4239.7,517.3" fill="#9a32cd" stroke="#9a32cd" stroke-width="1.33"/>
<path d="M4239.5,543.9L4363.5,552.5" fill="none" stroke="#9a32cd" stroke-width="1.33" stroke-dasharray="8,8"/>
<polygon points="4226.5,543 4239.4,548.8 4240.1,539" fill="#9a32cd" stroke="#9a32cd" stroke-width="1.33"/>
<path d="M4535.4,551.3L4705,535" fill="none" stroke="#9a32cd" stroke-width="1.33" stroke-dasharray="8,8"/>
<polygon points="4522.5,552.5 4536.2,556.1 4535.3,546.4" fill="#9a32cd" stroke="#9a32cd" stroke-width="1.33"/>
<path d="M4231.5,582.4L4363.5,571.5" fill="none" stroke="#9a32cd" stroke-width="1.33" stroke-dasharray="8,8"/>
<polygon points="4218.5,583.5 4232.2,587.3 4231.4,577.5" fill="#9a32cd" stroke="#9a32cd" stroke-width="1.33"/>
<path d="M3951.5,601L4053,597.5" fill="none" stroke="#9a32cd" stroke-width="1.33" stroke-dasharray="8,8"/>
<polygon points="3938.5,601.5 3952,605.9 3951.6,596.1" fill="#9a32cd" stroke="#9a32cd" stroke-width="1.33"/>
<path d="M3907.7,583.2L4065,548.5" fill="none" stroke="#9a32cd" stroke-width="1.33" stroke-dasharray="8,8"/>
<polygon points="3895,586 3909,587.9 3906.9,578.4" fill="#9a32cd" stroke="#9a32cd" stroke-width="1.33"/>
<path d="M4202.6,696.7C4268.4,679.5 4334.4,663.1 4400,645C4451.9,630.7 4503.4,615.1 4555,600C4621.7,580.5 4688.3,560.7 4755,541" fill="none" stroke="#9a32cd" stroke-width="1.33" stroke-dasharray="8,8"/>
<polygon points="4190,700 4204.1,701.4 4201.6,691.9" fill="#9a32cd" stroke="#9a32cd" stroke-width="1.33"/>
<path d="M4525.7,699.7C4570.5,689.8 4616.8,685.3 4660,670C4677.6,663.8 4694.9,655.9 4710,645C4727.2,632.6 4741.2,616.1 4755,600C4770.6,581.8 4783.3,561.3 4797.5,542" fill="none" stroke="#9a32cd" stroke-width="1.33" stroke-dasharray="8,8"/>
<polygon points="4513,702.5 4527,704.4 4524.9,694.8" fill="#9a32cd" stroke="#9a32cd" stroke-width="1.33"/>
<path d="M4211.5,714.5L4371.5,714.5" fill="none" stroke="#9a32cd" stroke-width="1.33" stroke-dasharray="8,8"/>
<polygon points="4198.5,714.5 4211.8,719.4 4211.8,709.6" fill="#9a32cd" stroke="#9a32cd" stroke-width="1.33"/>
<path d="M4513,719L4688.5,730.2" fill="none" stroke="#9a32cd" stroke-width="1.33" stroke-dasharray="8,8"/>
<polygon points="4701.5,731 4688.5,725.3 4687.9,735" fill="#9a32cd" stroke="#9a32cd" stroke-width="1.33"/>
<path d="M4497.4,734.8C4511.6,739.2 4525.4,745.1 4540,748C4563,752.7 4586.6,754.2 4610,755C4638.3,756 4666.7,753.3 4695,752.5" fill="none" stroke="#9a32cd" stroke-width="1.33" stroke-dasharray="8,8"/>
<polygon points="4485,731 4496.3,739.6 4499.2,730.2" fill="#9a32cd" stroke="#9a32cd" stroke-width="1.33"/>
<path d="M4774.7,712.5C4777.1,710.1 4778.9,706.8 4782,705.2C4789.3,701.4 4798.1,700.9 4806.4,701C4817.2,701.2 4829.2,701.6 4838.2,707.6C4841.5,709.8 4845,713.4 4845,717.4C4845,719.9 4842.1,721.5 4840.6,723.5" fill="none" stroke="#9a32cd" stroke-width="1.33" stroke-dasharray="8,8"/>
<polygon points="4780,726 4779.7,711.8 4770.6,715.4" fill="#9a32cd" stroke="#9a32cd" stroke-width="1.33"/>
</g>
<g>
<rect x="37" y="282.8" width="105" height="28" fill="#fff" stroke="#000" stroke-width="1.33"/>
<rect x="20" y="370.2" width="140" height="28" fill="#fff" stroke="#000" stroke-width="1.33"/>
<rect x="5" y="486.5" width="168.5" height="28" fill="#fff" stroke="#000" stroke-width="1.33"/>
<rect x="10.5" y="717" width="157.5" height="28" fill="#fff" stroke="#000" stroke-width="1.33"/>
<rect x="279.5" y="263.8" width="112.5" height="28" fill="#fff" stroke="#000" stroke-width="1.33"/>
<rect x="278.5" y="370.2" width="116" height="28" fill="#fff" stroke="#000" stroke-width="1.33"/>
<rect x="279.5" y="565" width="112.5" height="28" fill="#fff" stroke="#000" stroke-width="1.33"/>
<rect x="603.5" y="67.8" width="112.5" height="28" fill="#fff" stroke="#000" stroke-width="1.33"/>
<rect x="567.5" y="261" width="184.5" height="28" fill="#fff" stroke="#000" stroke-width="1.33"/>
<rect x="567.5" y="413" width="184.5" height="28" fill="#fff" stroke="#000" stroke-width="1.33"/>
<rect x="586" y="616" width="149" height="28" fill="#fff" stroke="#000" stroke-width="1.33"/>
<rect x="777" y="115.8" width="180.5" height="28" fill="#fff" stroke="#000" stroke-width="1.33"/>
<rect x="993" y="245" width="169.5" height="28" fill="#fff" stroke="#000" stroke-width="1.33"/>
<rect x="1001" y="460" width="152.5" height="28" fill="#fff" stroke="#000" stroke-width="1.33"/>
<rect x="982.5" y="616" width="191" height="28" fill="#fff" stroke="#000" stroke-width="1.33"/>
<rect x="1301" y="586.8" width="184.5" height="28" fill="#fff" stroke="#000" stroke-width="1.33"/>
<rect x="1537" y="263.8" width="169.5" height="28" fill="#fff" stroke="#000" stroke-width="1.33"/>
<rect x="1539.5" y="314.5" width="164.5" height="28" fill="#fff" stroke="#000" stroke-width="1.33"/>
<rect x="1882" y="286.2" width="208.5" height="28" fill="#fff" stroke="#000" stroke-width="1.33"/>
<rect x="2150.5" y="263.8" width="125.5" height="28" fill="#fff" stroke="#000" stroke-width="1.33"/>
<rect x="2153" y="314.5" width="120.5" height="28" fill="#fff" stroke="#000" stroke-width="1.33"/>
<rect x="2141" y="496" width="144" height="28" fill="#fff" stroke="#000" stroke-width="1.33"/>
<rect x="2438.5" y="223.8" width="167" height="28" fill="#fff" stroke="#000" stroke-width="1.33"/>
<rect x="2439.5" y="321" width="163" height="28" fill="#fff" stroke="#000" stroke-width="1.33"/>
<rect x="2436" y="372" width="170.5" height="28" fill="#fff" stroke="#000" stroke-width="1.33"/>
<rect x="2422.5" y="437" width="199" height="28" fill="#fff" stroke="#000" stroke-width="1.33"/>
<rect x="2447.5" y="513.5" width="148.5" height="28" fill="#fff" stroke="#000" stroke-width="1.33"/>
<rect x="2807.5" y="350.5" width="168.5" height="28" fill="#fff" stroke="#000" stroke-width="1.33"/>
<rect x="3103.5" y="410.5" width="152.5" height="28" fill="#fff" stroke="#000" stroke-width="1.33"/>
<rect x="3082.5" y="605" width="195" height="28" fill="#fff" stroke="#000" stroke-width="1.33"/>
<rect x="3095.5" y="656" width="170" height="28" fill="#fff" stroke="#000" stroke-width="1.33"/>
<rect x="3443.5" y="278.5" width="151" height="28" fill="#fff" stroke="#000" stroke-width="1.33"/>
<rect x="3453" y="400" width="132" height="28" fill="#fff" stroke="#000" stroke-width="1.33"/>
<rect x="3434" y="472" width="168.5" height="28" fill="#fff" stroke="#000" stroke-width="1.33"/>
<rect x="3754" y="332" width="144.5" height="28" fill="#fff" stroke="#000" stroke-width="1.33"/>
<rect x="3716" y="586.8" width="222.5" height="28" fill="#fff" stroke="#000" stroke-width="1.33"/>
<rect x="4061" y="293" width="151" height="28" fill="#fff" stroke="#000" stroke-width="1.33"/>
<rect x="4045" y="519.8" width="181.5" height="28" fill="#fff" stroke="#000" stroke-width="1.33"/>
<rect x="4053" y="575.8" width="165.5" height="28" fill="#fff" stroke="#000" stroke-width="1.33"/>
<rect x="4074.5" y="701.5" width="124" height="28" fill="#fff" stroke="#000" stroke-width="1.33"/>
<rect x="4346" y="245.2" width="192.5" height="28" fill="#fff" stroke="#000" stroke-width="1.33"/>
<rect x="4363.5" y="547.8" width="159" height="28" fill="#fff" stroke="#000" stroke-width="1.33"/>
<rect x="4371.5" y="701.5" width="141.5" height="28" fill="#fff" stroke="#000" stroke-width="1.33"/>
<rect x="4711.5" y="511.8" width="196.5" height="28" fill="#bfbfbf" stroke="#000" stroke-width="1.33"/>
<rect x="4701.5" y="725" width="216" height="28" fill="#fff" stroke="#bfbfbf" stroke-width="1.33"/>
</g>
<g style="filter:grayscale(1)">
<text x="88.9" y="300.9" textLength="83" lengthAdjust="spacingAndGlyphs">comma::Ast</text>
<text x="89.4" y="388.4" textLength="118" lengthAdjust="spacingAndGlyphs">comma::Location</text>
<text x="88.7" y="504.6" textLength="146.5" lengthAdjust="spacingAndGlyphs">comma::IdentifierInfo</text>
<text x="88.7" y="735.1" textLength="135.5" lengthAdjust="spacingAndGlyphs">comma::DeclRegion</text>
<text x="335.1" y="281.9" textLength="90.5" lengthAdjust="spacingAndGlyphs">comma::Type</text>
<text x="335.9" y="388.4" textLength="94" lengthAdjust="spacingAndGlyphs">comma::Stmt</text>
<text x="335.1" y="583.1" textLength="90.5" lengthAdjust="spacingAndGlyphs">comma::Decl</text>
<text x="659.1" y="85.8" textLength="90.5" lengthAdjust="spacingAndGlyphs">comma::Expr</text>
<text x="659.1" y="279.1" textLength="162.5" lengthAdjust="spacingAndGlyphs">comma::SubroutineType</text>
<text x="659.1" y="431.1" textLength="162.5" lengthAdjust="spacingAndGlyphs">comma::StmtSequence</text>
<text x="659.9" y="634.1" textLength="127" lengthAdjust="spacingAndGlyphs">comma::ValueDecl</text>
<text x="866.6" y="133.8" textLength="158.5" lengthAdjust="spacingAndGlyphs">comma::ExceptionDecl</text>
<text x="1077.2" y="263.1" textLength="147.5" lengthAdjust="spacingAndGlyphs">comma::FunctionType</text>
<text x="1076.7" y="478.1" textLength="130.5" lengthAdjust="spacingAndGlyphs">comma::BlockStmt</text>
<text x="1077.4" y="634.1" textLength="169" lengthAdjust="spacingAndGlyphs">comma::ParamValueDecl</text>
<text x="1392.7" y="604.9" textLength="162.5" lengthAdjust="spacingAndGlyphs">comma::SubroutineDecl</text>
<text x="1621.2" y="281.9" textLength="147.5" lengthAdjust="spacingAndGlyphs">comma::FunctionDecl</text>
<text x="1621.2" y="332.6" textLength="142.5" lengthAdjust="spacingAndGlyphs">comma::PrimaryType</text>
<text x="1985.7" y="304.4" textLength="186.5" lengthAdjust="spacingAndGlyphs">comma::FunctionAttribDecl</text>
<text x="2212.7" y="281.9" textLength="103.5" lengthAdjust="spacingAndGlyphs">comma::PosAD</text>
<text x="2212.7" y="332.6" textLength="98.5" lengthAdjust="spacingAndGlyphs">comma::ValAD</text>
<text x="2212.4" y="514.1" textLength="122" lengthAdjust="spacingAndGlyphs">comma::TypeDecl</text>
<text x="2521.4" y="241.8" textLength="145" lengthAdjust="spacingAndGlyphs">comma::TextProvider</text>
<text x="2520.4" y="339.1" textLength="141" lengthAdjust="spacingAndGlyphs">comma::IntegerDecl</text>
<text x="2520.7" y="390.1" textLength="148.5" lengthAdjust="spacingAndGlyphs">comma::IdentifierPool</text>
<text x="2521.4" y="455.1" textLength="177" lengthAdjust="spacingAndGlyphs">comma::EnumerationDecl</text>
<text x="2521.2" y="531.6" textLength="126.5" lengthAdjust="spacingAndGlyphs">comma::ArrayDecl</text>
<text x="2891.2" y="368.6" textLength="146.5" lengthAdjust="spacingAndGlyphs">comma::AstResource</text>
<text x="3179.2" y="428.6" textLength="130.5" lengthAdjust="spacingAndGlyphs">comma::ModelDecl</text>
<text x="3179.4" y="623.1" textLength="173" lengthAdjust="spacingAndGlyphs">comma::DomainTypeDecl</text>
<text x="3179.9" y="674.1" textLength="148" lengthAdjust="spacingAndGlyphs">comma::SignatureSet</text>
<text x="3518.4" y="296.6" textLength="129" lengthAdjust="spacingAndGlyphs">comma::Generator</text>
<text x="3518.4" y="418.1" textLength="110" lengthAdjust="spacingAndGlyphs">comma::Domoid</text>
<text x="3517.7" y="490.1" textLength="146.5" lengthAdjust="spacingAndGlyphs">comma::PercentDecl</text>
<text x="3825.7" y="350.1" textLength="122.5" lengthAdjust="spacingAndGlyphs">comma::CodeGen</text>
<text x="3826.7" y="604.9" textLength="200.5" lengthAdjust="spacingAndGlyphs">comma::DomainInstanceDecl</text>
<text x="4135.9" y="311.1" textLength="129" lengthAdjust="spacingAndGlyphs">comma::CommaRT</text>
<text x="4135.1" y="537.9" textLength="159.5" lengthAdjust="spacingAndGlyphs">comma::CodeGenTypes</text>
<text x="4135.1" y="593.9" textLength="143.5" lengthAdjust="spacingAndGlyphs">comma::InstanceInfo</text>
<text x="4135.9" y="719.6" textLength="102" lengthAdjust="spacingAndGlyphs">comma::SRInfo</text>
<text x="4441.6" y="263.4" textLength="170.5" lengthAdjust="spacingAndGlyphs">comma::DomainInstance</text>
<text x="4442.4" y="565.9" textLength="137" lengthAdjust="spacingAndGlyphs">comma::CGContext</text>
<text x="4441.6" y="719.6" textLength="119.5" lengthAdjust="spacingAndGlyphs">comma::SRFrame</text>
<text x="4809.1" y="529.9" textLength="174.5" lengthAdjust="spacingAndGlyphs">comma::CodeGenRoutine</text>
<text x="4808.9" y="743.1" textLength="194" lengthAdjust="spacingAndGlyphs">comma::SRFrame::Subframe</text>
<text x="334.5" y="110.9" textLength="53" lengthAdjust="spacingAndGlyphs">location</text>
<text x="480.5" y="112.9" textLength="31" lengthAdjust="spacingAndGlyphs">type</text>
<text x="658.5" y="226.9" textLength="73" lengthAdjust="spacingAndGlyphs">returnType</text>
<text x="480.8" y="253.4" textLength="103.5" lengthAdjust="spacingAndGlyphs">argumentTypes</text>
<text x="480.8" y="356.9" textLength="123.5" lengthAdjust="spacingAndGlyphs">correspondingType</text>
<text x="225" y="378.9" textLength="53" lengthAdjust="spacingAndGlyphs">location</text>
<text x="481" y="453.9" textLength="31" lengthAdjust="spacingAndGlyphs">label</text>
<text x="225" y="465.4" textLength="53" lengthAdjust="spacingAndGlyphs">location</text>
<text x="224.8" y="530.9" textLength="35.5" lengthAdjust="spacingAndGlyphs">idInfo</text>
<text x="336.5" y="536.1" textLength="35" lengthAdjust="spacingAndGlyphs">origin</text>
<text x="225" y="625.9" textLength="53" lengthAdjust="spacingAndGlyphs">context</text>
<text x="88.8" y="686.9" textLength="44.5" lengthAdjust="spacingAndGlyphs">parent</text>
<text x="1236.5" y="517.9" textLength="32" lengthAdjust="spacingAndGlyphs">body</text>
<text x="1237" y="610.4" textLength="78.5" lengthAdjust="spacingAndGlyphs">parameters</text>
<text x="1621" y="58.9" textLength="57.5" lengthAdjust="spacingAndGlyphs">highExpr</text>
<text x="1621" y="75.9" textLength="52.5" lengthAdjust="spacingAndGlyphs">lowExpr</text>
<text x="1795" y="102.9" textLength="118.5" lengthAdjust="spacingAndGlyphs">theAssertionError</text>
<text x="1795" y="120.9" textLength="111.5" lengthAdjust="spacingAndGlyphs">theProgramError</text>
<text x="1795" y="138.4" textLength="126.5" lengthAdjust="spacingAndGlyphs">theConstraintError</text>
<text x="1392.8" y="264.9" textLength="123.5" lengthAdjust="spacingAndGlyphs">correspondingType</text>
<text x="1793.5" y="310.9" textLength="38" lengthAdjust="spacingAndGlyphs">prefix</text>
<text x="2352.5" y="258.4" textLength="85" lengthAdjust="spacingAndGlyphs">posAttribute</text>
<text x="2352.5" y="290.9" textLength="85" lengthAdjust="spacingAndGlyphs">posAttribute</text>
<text x="2352.5" y="328.9" textLength="81" lengthAdjust="spacingAndGlyphs">valAttribute</text>
<text x="2352.5" y="364.9" textLength="81" lengthAdjust="spacingAndGlyphs">valAttribute</text>
<text x="1985.8" y="404.9" textLength="125.5" lengthAdjust="spacingAndGlyphs">CorrespondingType</text>
<text x="2714.8" y="237.4" textLength="76.5" lengthAdjust="spacingAndGlyphs">txtProvider</text>
<text x="2714.5" y="288.9" textLength="108.5" lengthAdjust="spacingAndGlyphs">thePositiveDecl</text>
<text x="2714.5" y="306.9" textLength="136.5" lengthAdjust="spacingAndGlyphs">theRootIntegerDecl</text>
<text x="2714.5" y="323.9" textLength="103.5" lengthAdjust="spacingAndGlyphs">theNaturalDecl</text>
<text x="2714.5" y="340.9" textLength="104.5" lengthAdjust="spacingAndGlyphs">theIntegerDecl</text>
<text x="2714.5" y="378.9" textLength="39" lengthAdjust="spacingAndGlyphs">idPool</text>
<text x="2714.8" y="408.9" textLength="122.5" lengthAdjust="spacingAndGlyphs">theCharacterDecl</text>
<text x="2714.8" y="426.9" textLength="108.5" lengthAdjust="spacingAndGlyphs">theBooleanDecl</text>
<text x="2714.2" y="474.9" textLength="93.5" lengthAdjust="spacingAndGlyphs">theStringDecl</text>
<text x="3356.5" y="350.9" textLength="62" lengthAdjust="spacingAndGlyphs">Resource</text>
<text x="3029" y="382.9" textLength="59" lengthAdjust="spacingAndGlyphs">resource</text>
<text x="3355.8" y="432.9" textLength="108.5" lengthAdjust="spacingAndGlyphs">underlyingModel</text>
<text x="3355.5" y="466.4" textLength="54" lengthAdjust="spacingAndGlyphs">percent</text>
<text x="3657.8" y="470.9" textLength="61.5" lengthAdjust="spacingAndGlyphs">definition</text>
<text x="3355" y="567.4" textLength="40" lengthAdjust="spacingAndGlyphs">sigset</text>
<text x="3518.2" y="603.4" textLength="72.5" lengthAdjust="spacingAndGlyphs">arguments</text>
<text x="3518" y="629.9" textLength="40" lengthAdjust="spacingAndGlyphs">sigset</text>
<text x="2714.5" y="724.9" textLength="132" lengthAdjust="spacingAndGlyphs">representationType</text>
<text x="2714.5" y="774.9" textLength="43" lengthAdjust="spacingAndGlyphs">srDecl</text>
<text x="4136" y="254.4" textLength="19" lengthAdjust="spacingAndGlyphs">CG</text>
<text x="4286" y="275.4" textLength="69" lengthAdjust="spacingAndGlyphs">DInstance</text>
<text x="4286.5" y="306.4" textLength="26" lengthAdjust="spacingAndGlyphs">CRT</text>
<text x="3992" y="318.4" textLength="19" lengthAdjust="spacingAndGlyphs">CG</text>
<text x="3992.5" y="347.4" textLength="26" lengthAdjust="spacingAndGlyphs">CRT</text>
<text x="4442.5" y="333.4" textLength="26" lengthAdjust="spacingAndGlyphs">CRT</text>
<text x="4286.5" y="419.4" textLength="19" lengthAdjust="spacingAndGlyphs">CG</text>
<text x="4136" y="458.9" textLength="19" lengthAdjust="spacingAndGlyphs">CG</text>
<text x="3992" y="497.9" textLength="19" lengthAdjust="spacingAndGlyphs">CG</text>
<text x="4442.5" y="513.4" textLength="27" lengthAdjust="spacingAndGlyphs">CGT</text>
<text x="4286.5" y="540.9" textLength="27" lengthAdjust="spacingAndGlyphs">CGT</text>
<text x="4619" y="537.4" textLength="28" lengthAdjust="spacingAndGlyphs">CGC</text>
<text x="4286.5" y="569.9" textLength="27" lengthAdjust="spacingAndGlyphs">IInfo</text>
<text x="4441.5" y="598.9" textLength="21" lengthAdjust="spacingAndGlyphs">SRI</text>
<text x="3992" y="554.9" textLength="54" lengthAdjust="spacingAndGlyphs">context</text>
<text x="3991.5" y="593.4" textLength="58" lengthAdjust="spacingAndGlyphs">instance</text>
<text x="4619.5" y="658.9" textLength="24.5" lengthAdjust="spacingAndGlyphs">SRF</text>
<text x="4809" y="695.4" textLength="45" lengthAdjust="spacingAndGlyphs">parent</text>
<text x="4286" y="709.4" textLength="21" lengthAdjust="spacingAndGlyphs">SRI</text>
<text x="4620" y="714.9" textLength="113" lengthAdjust="spacingAndGlyphs">currentSubframe</text>
<text x="4619.5" y="740.9" textLength="24.5" lengthAdjust="spacingAndGlyphs">SRF</text>
</g>
</g>
</svg></body></html>
